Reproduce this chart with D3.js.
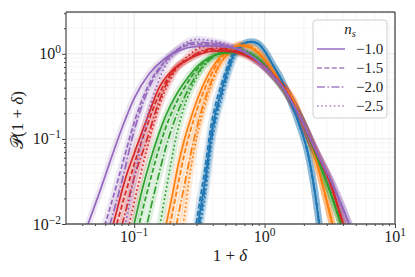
<!DOCTYPE html>
<html>
<head>
<meta charset="utf-8">
<script src="https://cdn.jsdelivr.net/npm/d3@7"></script>
<style>
  body { margin: 0; background: #fff; }
  svg { display: block; }
</style>
</head>
<body>
<svg width="415" height="277"></svg>
<script>
// values, one x grid per colour group
var purpleX = [0.035,0.045,0.055,0.065,0.08,0.1,0.13,0.17,0.22,0.3,0.4,0.55,0.75,1.0,1.4,1.9,2.5,3.3,4.5,5.5];
var purpleSolid = [0.0036,0.0107,0.025,0.053,0.13,0.30,0.58,0.87,1.09,1.22,1.24,1.18,0.99,0.69,0.39,0.172,0.070,0.030,0.0095,0.004];
var purpleDash = [0.001,0.0023,0.0065,0.0152,0.0466,0.156,0.44,0.80,1.15,1.30,1.30,1.20,0.99,0.69,0.39,0.172,0.070,0.030,0.0095,0.004];
var purpleDashDot = [0.0005,0.0015,0.0042,0.0098,0.0306,0.125,0.40,0.78,1.15,1.36,1.34,1.21,1.0,0.70,0.39,0.172,0.070,0.030,0.0095,0.004];
var purpleDot = [0.0003,0.0005,0.001,0.002,0.006,0.035,0.22,0.68,1.15,1.48,1.42,1.24,1.0,0.70,0.39,0.17,0.069,0.029,0.0093,0.004];

var redX = [0.05,0.06,0.07,0.085,0.1,0.125,0.155,0.2,0.26,0.33,0.42,0.55,0.78,1.1,1.45,1.9,2.45,3.2,4.0,5.0];
var redSolid = [0.0017,0.0046,0.0108,0.033,0.0676,0.170,0.398,0.66,0.86,1.01,1.08,1.06,0.895,0.614,0.374,0.170,0.073,0.030,0.010,0.0035];
var redDash = [0.0012,0.0032,0.0075,0.022,0.050,0.141,0.333,0.63,0.86,1.05,1.12,1.09,0.91,0.614,0.374,0.170,0.073,0.030,0.010,0.0035];
var redDashDot = [0.0007,0.0019,0.0045,0.0132,0.035,0.097,0.275,0.62,0.87,1.08,1.16,1.12,0.93,0.62,0.374,0.170,0.073,0.030,0.010,0.0035];
var redDot = [0.0003,0.0008,0.002,0.006,0.018,0.075,0.24,0.58,0.95,1.2,1.26,1.17,0.93,0.62,0.37,0.168,0.072,0.030,0.010,0.0035];

var greenX = [0.08,0.09,0.1,0.115,0.133,0.153,0.173,0.214,0.255,0.304,0.38,0.49,0.63,0.85,1.1,1.45,1.9,2.3,2.85,3.35,3.9,4.8];
var greenSolid = [0.0023,0.005,0.010,0.0251,0.0562,0.110,0.182,0.347,0.513,0.708,0.912,1.02,1.03,0.897,0.614,0.357,0.172,0.086,0.038,0.019,0.0095,0.003];
var greenDash = [0.0012,0.0027,0.0055,0.0138,0.033,0.072,0.13,0.28,0.45,0.66,0.89,1.04,1.05,0.91,0.614,0.357,0.172,0.086,0.038,0.019,0.0095,0.003];
var greenDashDot = [0.0005,0.001,0.0022,0.0055,0.0147,0.036,0.075,0.20,0.36,0.58,0.86,1.05,1.08,0.93,0.62,0.357,0.172,0.086,0.038,0.019,0.0095,0.003];
var greenDot = [0.0003,0.0005,0.0008,0.0015,0.003,0.0075,0.022,0.12,0.30,0.54,0.85,1.08,1.12,0.95,0.63,0.36,0.172,0.086,0.038,0.019,0.0095,0.003];

var orangeX = [0.14,0.16,0.176,0.196,0.217,0.242,0.269,0.304,0.344,0.396,0.456,0.544,0.649,0.774,0.924,1.1,1.31,1.65,1.94,2.23,2.57,3.01,3.3,4.0];
var orangeSolid = [0.0019,0.005,0.010,0.022,0.049,0.097,0.167,0.288,0.456,0.684,0.922,1.15,1.24,1.18,0.973,0.703,0.469,0.288,0.158,0.097,0.046,0.018,0.010,0.002];
var orangeDash = [0.0009,0.003,0.0059,0.0132,0.029,0.0648,0.122,0.223,0.374,0.60,0.86,1.12,1.26,1.2,0.98,0.703,0.469,0.288,0.158,0.097,0.046,0.018,0.010,0.002];
var orangeDashDot = [0.0003,0.001,0.0025,0.0054,0.0122,0.028,0.063,0.14,0.27,0.50,0.76,1.05,1.26,1.22,1.0,0.71,0.469,0.288,0.158,0.097,0.046,0.018,0.010,0.002];
var orangeDot = [0.0001,0.0003,0.0006,0.0015,0.004,0.012,0.04,0.11,0.23,0.45,0.75,1.08,1.3,1.24,1.0,0.71,0.47,0.288,0.158,0.097,0.046,0.018,0.010,0.002];

var blueX = [0.27,0.29,0.309,0.33,0.35,0.389,0.425,0.464,0.507,0.564,0.649,0.788,0.891,1.0,1.15,1.31,1.57,1.87,2.12,2.31,2.48,2.62,2.9];
var blueSolid = [0.0027,0.0054,0.010,0.0188,0.033,0.111,0.219,0.357,0.566,0.897,1.24,1.38,1.31,1.08,0.75,0.536,0.288,0.138,0.074,0.038,0.019,0.010,0.003];
var blueDash = [0.0038,0.0076,0.014,0.026,0.046,0.145,0.27,0.43,0.65,0.98,1.28,1.38,1.31,1.08,0.75,0.536,0.288,0.138,0.074,0.038,0.019,0.010,0.003];
var blueDashDot = [0.0021,0.0043,0.008,0.015,0.027,0.094,0.19,0.32,0.52,0.85,1.21,1.39,1.32,1.08,0.75,0.536,0.288,0.138,0.074,0.038,0.019,0.010,0.003];
var blueDot = [0.0017,0.0035,0.0064,0.012,0.021,0.08,0.165,0.28,0.47,0.8,1.17,1.4,1.33,1.09,0.76,0.54,0.29,0.14,0.075,0.039,0.0195,0.0105,0.0032];

var nsLabels = ["\u22121.0", "\u22121.5", "\u22122.0", "\u22122.5"];
var xTickExp = [-1, 0, 1];
var yTickExp = [-2, -1, 0];

var SERIF = "'Liberation Serif', 'Times New Roman', 'DejaVu Serif', serif";

function label(parent) {
    return parent.append("text")
        .style("font-family", SERIF)
        .style("fill", "#222");
}

function main() {
    var svg = d3.select("svg");
    var left = 66, right = 395, top = 12, bottom = 224;

    var x = d3.scaleLog().domain([0.03, 10]).range([left, right]);
    var y = d3.scaleLog().domain([0.01, 3.1]).range([bottom, top]);

    var dashes = ["none", "5,2.4", "8,2.4,1.6,2.4", "1.6,2.6"];
    var groups = [
        { color: "#1f77b4", xs: blueX, ys: [blueSolid, blueDash, blueDashDot, blueDot] },
        { color: "#ff7f0e", xs: orangeX, ys: [orangeSolid, orangeDash, orangeDashDot, orangeDot] },
        { color: "#2ca02c", xs: greenX, ys: [greenSolid, greenDash, greenDashDot, greenDot] },
        { color: "#d62728", xs: redX, ys: [redSolid, redDash, redDashDot, redDot] },
        { color: "#9467bd", xs: purpleX, ys: [purpleSolid, purpleDash, purpleDashDot, purpleDot] }
    ];

    // minor decade values
    var minors = [];
    [0.01, 0.1, 1].forEach(function(d) {
        for (var k = 2; k <= 9; k++) minors.push(d * k);
    });
    var xMinor = minors.filter(function(v) { return v > 0.03 && v < 10; });
    var yMinor = minors.filter(function(v) { return v > 0.01 && v < 3.1; });

    // grid
    var grid = svg.append("g");
    grid.selectAll(".gxm").data(xMinor).enter().append("line")
        .attr("x1", function(d) { return x(d); }).attr("x2", function(d) { return x(d); })
        .attr("y1", top).attr("y2", bottom)
        .attr("stroke", "#f0f0f0").attr("stroke-width", 0.7);
    grid.selectAll(".gym").data(yMinor).enter().append("line")
        .attr("y1", function(d) { return y(d); }).attr("y2", function(d) { return y(d); })
        .attr("x1", left).attr("x2", right)
        .attr("stroke", "#f0f0f0").attr("stroke-width", 0.7);
    grid.selectAll(".gx").data([0.1, 1]).enter().append("line")
        .attr("x1", function(d) { return x(d); }).attr("x2", function(d) { return x(d); })
        .attr("y1", top).attr("y2", bottom)
        .attr("stroke", "#e4e4e4").attr("stroke-width", 0.8);
    grid.selectAll(".gy").data([0.1, 1]).enter().append("line")
        .attr("y1", function(d) { return y(d); }).attr("y2", function(d) { return y(d); })
        .attr("x1", left).attr("x2", right)
        .attr("stroke", "#e4e4e4").attr("stroke-width", 0.8);

    svg.append("clipPath").attr("id", "clip")
       .append("rect").attr("x", left).attr("y", top)
       .attr("width", right - left).attr("height", bottom - top);

    var line = d3.line()
        .x(function(d) { return x(d[0]); })
        .y(function(d) { return y(d[1]); })
        .curve(d3.curveMonotoneX);

    var plot = svg.append("g").attr("clip-path", "url(#clip)");

    // light bands under every curve
    groups.forEach(function(g) {
        g.ys.forEach(function(ys) {
            plot.append("path")
                .datum(g.xs.map(function(v, i) { return [v, ys[i]]; }))
                .attr("d", line)
                .attr("fill", "none")
                .attr("stroke", g.color)
                .attr("stroke-opacity", 0.16)
                .attr("stroke-width", 7)
                .attr("stroke-linejoin", "round");
        });
    });

    groups.forEach(function(g) {
        g.ys.forEach(function(ys, j) {
            plot.append("path")
                .datum(g.xs.map(function(v, i) { return [v, ys[i]]; }))
                .attr("d", line)
                .attr("fill", "none")
                .attr("stroke", g.color)
                .attr("stroke-width", 1.7)
                .attr("stroke-dasharray", dashes[j]);
        });
    });

    // axes
    var xAxis = svg.append("g").attr("transform", "translate(0," + bottom + ")")
        .call(d3.axisBottom(x).tickValues([0.1, 1, 10]).tickSize(4).tickFormat(""));
    svg.append("g").attr("transform", "translate(0," + bottom + ")")
        .call(d3.axisBottom(x).tickValues(xMinor).tickSize(2).tickFormat(""))
        .call(function(a) { a.select(".domain").remove(); });
    var yAxis = svg.append("g").attr("transform", "translate(" + left + ",0)")
        .call(d3.axisLeft(y).tickValues([0.01, 0.1, 1]).tickSize(4).tickFormat(""));
    svg.append("g").attr("transform", "translate(" + left + ",0)")
        .call(d3.axisLeft(y).tickValues(yMinor).tickSize(2).tickFormat(""))
        .call(function(a) { a.select(".domain").remove(); });
    svg.selectAll(".tick line").attr("stroke", "#444");
    xAxis.select(".domain").remove();
    yAxis.select(".domain").remove();

    svg.append("line").attr("x1", left).attr("x2", right).attr("y1", top).attr("y2", top)
       .attr("stroke", "#111").attr("stroke-width", 1);
    svg.append("line").attr("x1", right).attr("x2", right).attr("y1", top).attr("y2", bottom)
       .attr("stroke", "#111").attr("stroke-width", 1);
    svg.append("line").attr("x1", left).attr("x2", right).attr("y1", bottom).attr("y2", bottom)
       .attr("stroke", "#555").attr("stroke-width", 1.3);
    svg.append("line").attr("x1", left).attr("x2", left).attr("y1", top).attr("y2", bottom)
       .attr("stroke", "#555").attr("stroke-width", 1.3);

    // tick labels
    xTickExp.forEach(function(e) {
        var t = label(svg).attr("x", x(Math.pow(10, e))).attr("y", bottom + 18)
            .attr("text-anchor", "middle").attr("font-size", 16);
        t.append("tspan").text("10");
        t.append("tspan").attr("dy", -6).attr("font-size", 11.5).text(String(e).replace("-", "\u2212"));
    });
    yTickExp.forEach(function(e) {
        var t = label(svg).attr("x", left - 5).attr("y", y(Math.pow(10, e)) + 5.5)
            .attr("text-anchor", "end").attr("font-size", 16);
        t.append("tspan").text("10");
        t.append("tspan").attr("dy", -6).attr("font-size", 11.5).text(String(e).replace("-", "\u2212"));
    });

    // axis titles
    var xl = label(svg).attr("x", 230).attr("y", 261)
        .attr("text-anchor", "middle").attr("font-size", 17);
    xl.append("tspan").text("1 + ");
    xl.append("tspan").attr("font-style", "italic").text("\u03b4");

    var yl = label(svg).attr("transform", "translate(23,120) rotate(-90)")
        .attr("text-anchor", "middle").attr("font-size", 17);
    yl.append("tspan").style("font-family", "'DejaVu Serif', serif").text("\ud835\udcab");
    yl.append("tspan").text("(1 + ");
    yl.append("tspan").attr("font-style", "italic").text("\u03b4");
    yl.append("tspan").text(")");

    // legend
    var lg = svg.append("g");
    lg.append("rect").attr("x", 313).attr("y", 20).attr("width", 74).attr("height", 98)
      .attr("rx", 3).attr("fill", "#fff").attr("fill-opacity", 0.85)
      .attr("stroke", "#d0d0d0").attr("stroke-width", 1);
    var tt = label(lg).attr("x", 350).attr("y", 34).attr("text-anchor", "middle")
      .attr("font-size", 15);
    tt.append("tspan").attr("font-style", "italic").text("n");
    tt.append("tspan").attr("font-style", "italic").attr("font-size", 10.5).attr("dy", 3).text("s");

    nsLabels.forEach(function(lab, i) {
        var ry = 49 + i * 19;
        lg.append("line").attr("x1", 317).attr("x2", 345).attr("y1", ry).attr("y2", ry)
          .attr("stroke", "#9467bd").attr("stroke-opacity", 0.85).attr("stroke-width", 1.7)
          .attr("stroke-dasharray", dashes[i]);
        label(lg).attr("x", 356).attr("y", ry + 5).attr("font-size", 15).text(lab);
    });
}
main();
</script>
</body>
</html>
